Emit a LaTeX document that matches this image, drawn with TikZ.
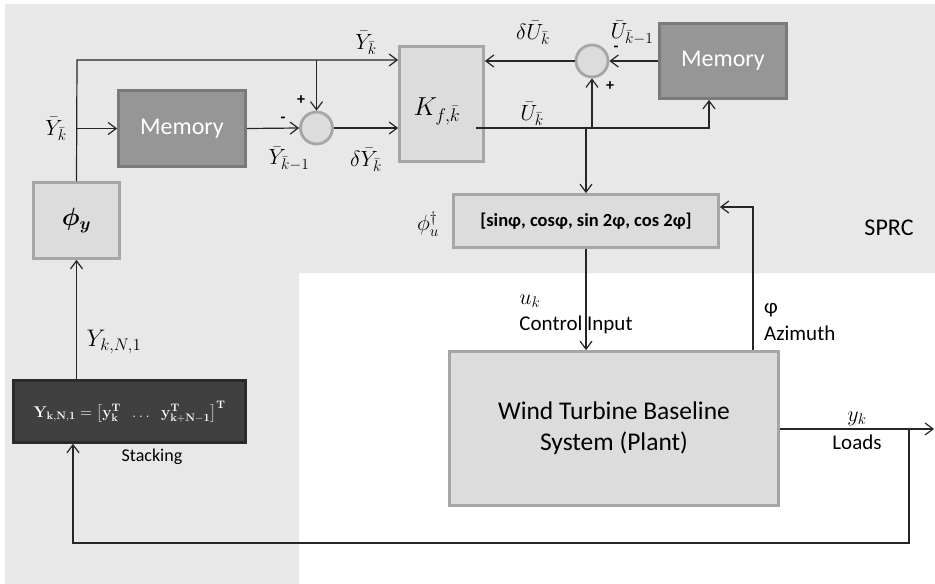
\RequirePackage{fix-cm}
\documentclass[tikz,border=0pt]{standalone}
\usepackage[no-math]{fontspec}
\setmainfont{Carlito}
\usepackage{amsmath,bm}
\usetikzlibrary{arrows.meta,calc}
\definecolor{bggray}{HTML}{E8E8E8}
\definecolor{boxfill}{HTML}{DCDCDC}
\definecolor{boxline}{HTML}{A6A6A6}
\definecolor{memfill}{HTML}{969696}
\definecolor{memline}{HTML}{7A7A7A}
\definecolor{stkfill}{HTML}{404040}
\definecolor{stkline}{HTML}{2B2B2B}
\definecolor{wirecol}{HTML}{262626}
\begin{document}
\begin{tikzpicture}[x=1pt,y=-1pt,
  lightbox/.style={draw=boxline, fill=boxfill, line width=2.8pt, inner sep=0pt, rectangle},
  memorybox/.style={draw=memline, fill=memfill, line width=2.8pt, inner sep=0pt, rectangle, text=white, font=\fontsize{24}{28}\selectfont},
  stackbox/.style={draw=stkline, fill=stkfill, line width=2.5pt, inner sep=0pt, rectangle, text=white},
  sumnode/.style={circle, draw=boxline, fill=boxfill, line width=2.8pt, minimum size=32pt, inner sep=0pt},
  wire/.style={draw=wirecol, line width=1.2pt},
  arr/.style={wire, -{Straight Barb[length=8pt,width=12pt]}},
  lbl/.style={font=\fontsize{22}{25}\selectfont, inner sep=0pt},
  txt/.style={font=\fontsize{21}{25}\selectfont, inner sep=0pt},
  sgn/.style={font=\fontsize{16}{18}\selectfont\bfseries, inner sep=0pt}]
\useasboundingbox (0,0) rectangle (935,584);
% background
\fill[bggray] (5,4) -- (935,4) -- (935,273) -- (299,273) -- (299,584) -- (5,584) -- cycle;

% blocks
\node[lightbox, minimum width=86pt, minimum height=76pt] (phiy) at (76.5,220.5) {\fontsize{25}{28}\selectfont$\bm{\phi}_{\bm{y}}$};
\node[memorybox, minimum width=127pt, minimum height=76pt] (mem1) at (182,128.5) {Memory};
\node[sumnode] (sum1) at (316.5,128) {};
\node[lightbox, minimum width=84pt, minimum height=115pt] (K) at (441.5,104) {};
\node[font=\fontsize{26}{29}\selectfont, inner sep=0pt] (Klbl) at (437,111) {$K_{f,\bar{k}}$};
\node[sumnode] (sum2) at (592,61) {};
\node[memorybox, minimum width=127pt, minimum height=75pt] (mem2) at (723,61) {Memory};
\node[lightbox, minimum width=265pt, minimum height=53pt, font=\fontsize{18.5}{22}\selectfont\bfseries] (phiu) at (586,221) {[sinφ, cosφ, sin 2φ, cos 2φ]};
\node[lightbox, minimum width=329pt, minimum height=154pt, align=center, font=\fontsize{25.5}{31}\selectfont] (plant) at (614,428.5) {Wind Turbine Baseline\\System (Plant)};
\node[stackbox, minimum width=232pt, minimum height=62pt, font=\fontsize{15.5}{18}\selectfont] (stack) at (129.5,411.5) {$\mathbf{Y}_{\mathbf{k,N,1}}=\big[\mathbf{y}_{\mathbf{k}}^{\mathbf{T}}\;\;\ldots\;\;\mathbf{y}_{\mathbf{k+N-1}}^{\mathbf{T}}\big]^{\mathbf{T}}$};

% helper coordinates
\coordinate (ytop) at (77,60);
\coordinate (ustart) at (476,128);
\coordinate (uend) at (709,128);
\coordinate (az) at (753,207);
\coordinate (out) at (934,429);
\coordinate (fb) at (909,543);
\coordinate (fbl) at (73,543);

% connectors
\draw[arr] (phiy.north) -- (ytop) -- (ytop -| K.west);
\draw[arr] (phiy.north |- mem1.west) -- (mem1.west);
\draw[arr] (mem1.east) -- (sum1.west);
\draw[arr] (sum1.north |- ytop) -- (sum1.north);
\draw[arr] (sum1.east) -- (sum1.east -| K.west);
\draw[arr] (ustart) -- (uend) -- (uend |- mem2.south);
\draw[arr] (sum2.south |- ustart) -- (sum2.south);
\draw[arr] (phiu.north |- ustart) -- (phiu.north);
\draw[arr] (mem2.west) -- (sum2.east);
\draw[arr] (sum2.west) -- (sum2.west -| K.east);
\draw[arr] (phiu.south) -- (phiu.south |- plant.north);
\draw[arr] (az |- plant.north) -- (az) -- (az -| phiu.east);
\draw[arr] (plant.east |- out) -- (out);
\draw[arr] (fb |- out) -- (fb) -- (fbl) -- (fbl |- stack.south);
\draw[arr] (phiy.south |- stack.north) -- (phiy.south);

% labels
\node[lbl] (lYtop) at (366,43) {$\bar{Y}_{\bar{k}}$};
\node[lbl] (lYleft) at (56,129) {$\bar{Y}_{\bar{k}}$};
\node[sgn] (plus1) at (301,100) {+};
\node[sgn] (minus1) at (283,120) {-};
\node[lbl] (lYkm1) at (289,159) {$\bar{Y}_{\bar{k}-1}$};
\node[lbl] (ldY) at (366,160) {$\delta\bar{Y}_{\bar{k}}$};
\node[lbl] (ldU) at (533,33) {$\delta\bar{U}_{\bar{k}}$};
\node[lbl] (lUkm1) at (632,33) {$\bar{U}_{\bar{k}-1}$};
\node[sgn] (minus2) at (616,49) {-};
\node[sgn] (plus2) at (610,86) {+};
\node[lbl] (lU) at (532,114) {$\bar{U}_{\bar{k}}$};
\node[lbl] (lphiu) at (428,224) {$\phi_u^{\dagger}$};
\node[font=\fontsize{24}{28}\selectfont, inner sep=0pt] (sprc) at (889,228) {SPRC};
\node[lbl] (luk) at (530,301) {$u_k$};
\node[txt] (lctrl) at (576,325) {Control Input};
\node[txt, anchor=west] (lphi) at (764,310) {φ};
\node[txt, anchor=west] (lazi) at (764,333) {Azimuth};
\node[lbl] (lyk) at (857,419) {$y_k$};
\node[txt] (lloads) at (857,442) {Loads};
\node[font=\fontsize{24}{27}\selectfont, inner sep=0pt] (lYkN) at (114,342) {$Y_{k,N,1}$};
\node[font=\fontsize{18}{21}\selectfont, inner sep=0pt] (lstack) at (152,457) {Stacking};
\end{tikzpicture}
\end{document}
